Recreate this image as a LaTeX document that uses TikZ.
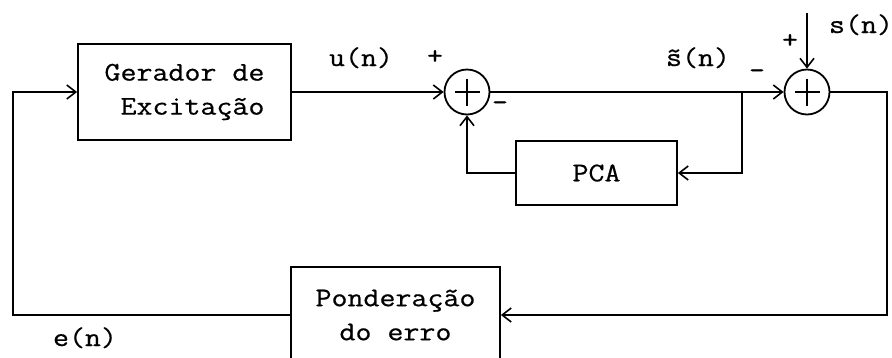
\documentclass[tikz,border=0pt]{standalone}
\usepackage{fontspec}
\setmonofont[FakeStretch=1.15, FakeBold=0.6]{Latin Modern Mono}
\usetikzlibrary{arrows.meta}
\begin{document}
\begin{tikzpicture}[x=1pt, y=-1pt, line width=1.8pt,
    font=\ttfamily\fontsize{27}{34}\selectfont,
    bloco/.style={draw, rectangle, inner sep=0pt},
    soma/.style={draw, circle, minimum size=45pt, inner sep=0pt,
      path picture={\draw ([yshift=-9pt]path picture bounding box.north) -- ([yshift=9pt]path picture bounding box.south)
        ([xshift=10pt]path picture bounding box.west) -- ([xshift=-10pt]path picture bounding box.east);}},
    seta/.style={-{Straight Barb[length=9pt, width=14pt, line width=1.6pt]}}]
  \path[use as bounding box, clip] (0,0) rectangle (892,357);
  % Nodes
  \node[bloco, minimum width=213pt, minimum height=96pt, align=right] (ger) at (184.5,92) {Gerador de\\Excitação};
  \node[soma] (som1) at (467,92) {};
  \node[soma] (som2) at (807,92) {};
  \node[bloco, minimum width=161pt, minimum height=64pt] (pca) at (596.5,173) {PCA};
  \node[bloco, minimum width=209pt, minimum height=96pt, align=center] (pond) at (395.5,315) {Ponderação\\do erro};
  \coordinate (ramo) at (742,92);
  \coordinate (dir) at (887,92);
  \coordinate (esq) at (13,92);
  \coordinate (sn) at (807,13);

  % Labels
  \node[anchor=base] (lu) at (361,66) {u(n)};
  \node[anchor=base] (ls) at (698,66) {\~{s}(n)};
  \node[anchor=base] (lsn) at (861,33) {s(n)};
  \node[anchor=base] (le) at (85,346) {e(n)};
  \node (p1) at (435,57) {+};
  \node (m1) at (500,106) {\textendash};
  \node (p2) at (790,41) {+};
  \node (m2) at (757,74) {\textendash};

  % Edges
  \draw[seta] (ger.east) -- (som1.west);
  \draw (som1.east) -- (ramo);
  \draw[seta] (ramo) -- (som2.west);
  \draw[seta] (ramo) |- (pca.east);
  \draw[seta] (pca.west) -| (som1.south);
  \draw[seta] (sn) -- (som2.north);
  \draw[seta] (som2.east) -- (dir) |- (pond.east);
  \draw[seta] (pond.west) -| (esq) -- (ger.west);
\end{tikzpicture}
\end{document}
